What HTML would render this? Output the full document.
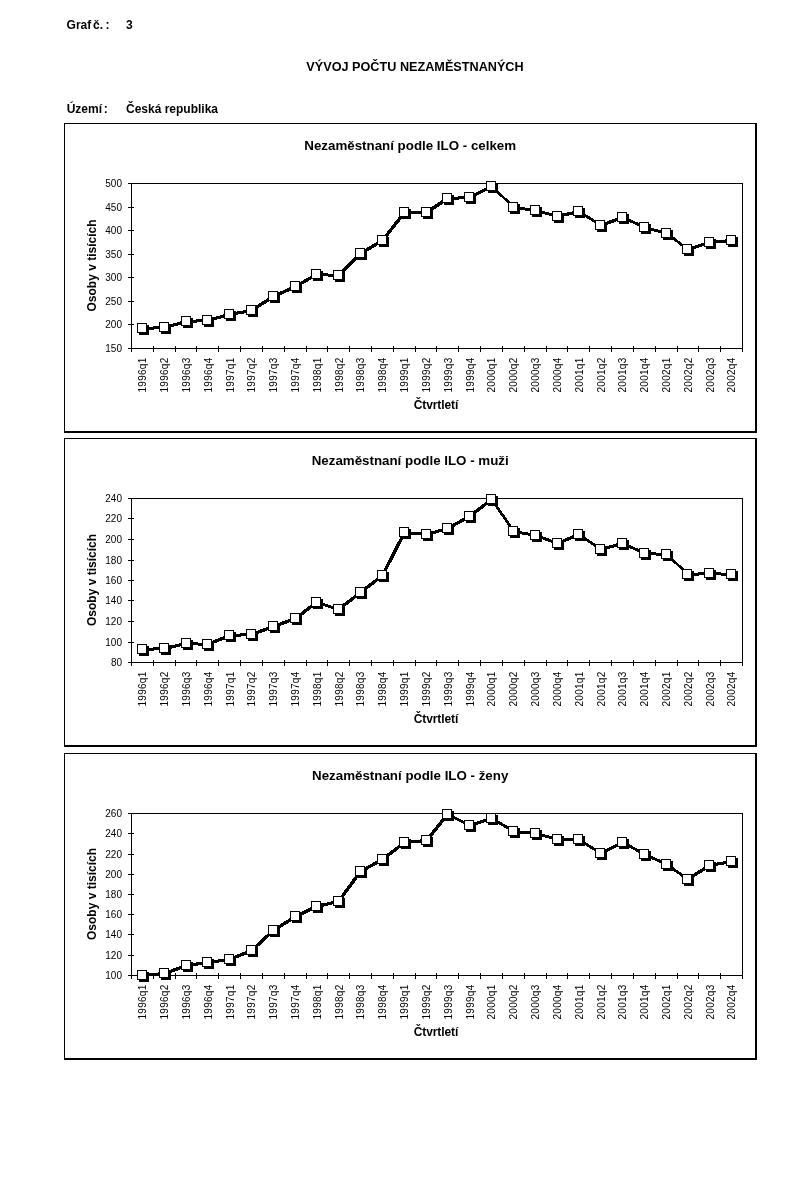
<!DOCTYPE html>
<html><head><meta charset="utf-8"><title>Graf 3</title>
<style>
html,body{margin:0;padding:0;background:#fff;}
body{width:807px;height:1181px;position:relative;overflow:hidden;font-family:"Liberation Sans",sans-serif;color:#000;}
svg{position:absolute;left:0;top:0;will-change:transform;}
text{font-family:"Liberation Sans",sans-serif;fill:#000;font-kerning:none;}
.b{font-weight:bold;font-size:12px;}
.t{font-size:10px;}
</style></head><body>
<svg width="807" height="1181" viewBox="0 0 807 1181">
<rect x="0" y="0" width="807" height="1181" fill="#fff"/>
<text class="b" x="66.6" y="29">Graf</text>
<text class="b" x="93" y="29">č.</text>
<text class="b" x="105.6" y="29">:</text>
<text class="b" x="126" y="29">3</text>
<text class="b" transform="translate(415,71) scale(1,1.08)" style="font-size:12.67px" text-anchor="middle">VÝVOJ POČTU NEZAMĚSTNANÝCH</text>
<text class="b" x="66.7" y="113">Území</text>
<text class="b" x="103.8" y="113">:</text>
<text class="b" x="126" y="113">Česká republika</text>
<g shape-rendering="crispEdges" fill="#000">
<rect x="64" y="123" width="693" height="1"/>
<rect x="64" y="123" width="1" height="310"/>
<rect x="755" y="123" width="2" height="310"/>
<rect x="64" y="431" width="693" height="2"/>
<rect x="131" y="183" width="612" height="1"/>
<rect x="131" y="348" width="612" height="1"/>
<rect x="131" y="183" width="1" height="166"/>
<rect x="742" y="183" width="1" height="166"/>
<rect x="128" y="183" width="6" height="1"/>
<rect x="128" y="207" width="6" height="1"/>
<rect x="128" y="230" width="6" height="1"/>
<rect x="128" y="254" width="6" height="1"/>
<rect x="128" y="277" width="6" height="1"/>
<rect x="128" y="301" width="6" height="1"/>
<rect x="128" y="324" width="6" height="1"/>
<rect x="128" y="348" width="6" height="1"/>
<rect x="131" y="346" width="1" height="6"/>
<rect x="153" y="346" width="1" height="6"/>
<rect x="175" y="346" width="1" height="6"/>
<rect x="196" y="346" width="1" height="6"/>
<rect x="218" y="346" width="1" height="6"/>
<rect x="240" y="346" width="1" height="6"/>
<rect x="262" y="346" width="1" height="6"/>
<rect x="284" y="346" width="1" height="6"/>
<rect x="306" y="346" width="1" height="6"/>
<rect x="327" y="346" width="1" height="6"/>
<rect x="349" y="346" width="1" height="6"/>
<rect x="371" y="346" width="1" height="6"/>
<rect x="393" y="346" width="1" height="6"/>
<rect x="415" y="346" width="1" height="6"/>
<rect x="436" y="346" width="1" height="6"/>
<rect x="458" y="346" width="1" height="6"/>
<rect x="480" y="346" width="1" height="6"/>
<rect x="502" y="346" width="1" height="6"/>
<rect x="524" y="346" width="1" height="6"/>
<rect x="546" y="346" width="1" height="6"/>
<rect x="567" y="346" width="1" height="6"/>
<rect x="589" y="346" width="1" height="6"/>
<rect x="611" y="346" width="1" height="6"/>
<rect x="633" y="346" width="1" height="6"/>
<rect x="655" y="346" width="1" height="6"/>
<rect x="677" y="346" width="1" height="6"/>
<rect x="698" y="346" width="1" height="6"/>
<rect x="720" y="346" width="1" height="6"/>
<rect x="742" y="346" width="1" height="6"/>
</g>
<text class="t" x="122" y="187" text-anchor="end">500</text>
<text class="t" x="122" y="211" text-anchor="end">450</text>
<text class="t" x="122" y="234" text-anchor="end">400</text>
<text class="t" x="122" y="258" text-anchor="end">350</text>
<text class="t" x="122" y="281" text-anchor="end">300</text>
<text class="t" x="122" y="305" text-anchor="end">250</text>
<text class="t" x="122" y="328" text-anchor="end">200</text>
<text class="t" x="122" y="352" text-anchor="end">150</text>
<text class="t" transform="translate(146.2,392.5) rotate(-90)" textLength="34.8" lengthAdjust="spacing">1996q1</text>
<text class="t" transform="translate(168.0,392.5) rotate(-90)" textLength="34.8" lengthAdjust="spacing">1996q2</text>
<text class="t" transform="translate(189.9,392.5) rotate(-90)" textLength="34.8" lengthAdjust="spacing">1996q3</text>
<text class="t" transform="translate(211.7,392.5) rotate(-90)" textLength="34.8" lengthAdjust="spacing">1996q4</text>
<text class="t" transform="translate(233.5,392.5) rotate(-90)" textLength="34.8" lengthAdjust="spacing">1997q1</text>
<text class="t" transform="translate(255.3,392.5) rotate(-90)" textLength="34.8" lengthAdjust="spacing">1997q2</text>
<text class="t" transform="translate(277.1,392.5) rotate(-90)" textLength="34.8" lengthAdjust="spacing">1997q3</text>
<text class="t" transform="translate(299.0,392.5) rotate(-90)" textLength="34.8" lengthAdjust="spacing">1997q4</text>
<text class="t" transform="translate(320.8,392.5) rotate(-90)" textLength="34.8" lengthAdjust="spacing">1998q1</text>
<text class="t" transform="translate(342.6,392.5) rotate(-90)" textLength="34.8" lengthAdjust="spacing">1998q2</text>
<text class="t" transform="translate(364.4,392.5) rotate(-90)" textLength="34.8" lengthAdjust="spacing">1998q3</text>
<text class="t" transform="translate(386.2,392.5) rotate(-90)" textLength="34.8" lengthAdjust="spacing">1998q4</text>
<text class="t" transform="translate(408.1,392.5) rotate(-90)" textLength="34.8" lengthAdjust="spacing">1999q1</text>
<text class="t" transform="translate(429.9,392.5) rotate(-90)" textLength="34.8" lengthAdjust="spacing">1999q2</text>
<text class="t" transform="translate(451.7,392.5) rotate(-90)" textLength="34.8" lengthAdjust="spacing">1999q3</text>
<text class="t" transform="translate(473.5,392.5) rotate(-90)" textLength="34.8" lengthAdjust="spacing">1999q4</text>
<text class="t" transform="translate(495.4,392.5) rotate(-90)" textLength="34.8" lengthAdjust="spacing">2000q1</text>
<text class="t" transform="translate(517.2,392.5) rotate(-90)" textLength="34.8" lengthAdjust="spacing">2000q2</text>
<text class="t" transform="translate(539.0,392.5) rotate(-90)" textLength="34.8" lengthAdjust="spacing">2000q3</text>
<text class="t" transform="translate(560.8,392.5) rotate(-90)" textLength="34.8" lengthAdjust="spacing">2000q4</text>
<text class="t" transform="translate(582.6,392.5) rotate(-90)" textLength="34.8" lengthAdjust="spacing">2001q1</text>
<text class="t" transform="translate(604.5,392.5) rotate(-90)" textLength="34.8" lengthAdjust="spacing">2001q2</text>
<text class="t" transform="translate(626.3,392.5) rotate(-90)" textLength="34.8" lengthAdjust="spacing">2001q3</text>
<text class="t" transform="translate(648.1,392.5) rotate(-90)" textLength="34.8" lengthAdjust="spacing">2001q4</text>
<text class="t" transform="translate(669.9,392.5) rotate(-90)" textLength="34.8" lengthAdjust="spacing">2002q1</text>
<text class="t" transform="translate(691.7,392.5) rotate(-90)" textLength="34.8" lengthAdjust="spacing">2002q2</text>
<text class="t" transform="translate(713.6,392.5) rotate(-90)" textLength="34.8" lengthAdjust="spacing">2002q3</text>
<text class="t" transform="translate(735.4,392.5) rotate(-90)" textLength="34.8" lengthAdjust="spacing">2002q4</text>
<text class="b" x="410.2" y="150" style="font-size:13.33px" text-anchor="middle">Nezaměstnaní podle ILO - celkem</text>
<text class="b" x="436" y="409" text-anchor="middle" textLength="44.5" lengthAdjust="spacing">Čtvrtletí</text>
<text class="b" transform="translate(96,265.5) rotate(-90)" text-anchor="middle" textLength="92" lengthAdjust="spacing">Osoby v tisících</text>
<g fill="none" stroke="#000" stroke-width="2" stroke-linejoin="miter" shape-rendering="crispEdges">
<polyline points="142,328 164,327 186,321 207,320 229,314 251,310 273,296 295,286 316,274 338,275 360,253 382,240 404,212 426,212 447,198 469,197 491,186 513,207 535,210 557,216 578,211 600,225 622,217 644,227 666,233 687,249 709,242 731,240"/>
<polyline points="143,328 165,327 187,321 208,320 230,314 252,310 274,296 296,286 317,274 339,275 361,253 383,240 405,212 427,212 448,198 470,197 492,186 514,207 536,210 558,216 579,211 601,225 623,217 645,227 667,233 688,249 710,242 732,240"/>
<polyline points="143,329 165,328 187,322 208,321 230,315 252,311 274,297 296,287 317,275 339,276 361,254 383,241 405,213 427,213 448,199 470,198 492,187 514,208 536,211 558,217 579,212 601,226 623,218 645,228 667,234 688,250 710,243 732,241"/>
</g>
<g shape-rendering="crispEdges">
<rect x="139" y="325" width="10" height="10" fill="#000"/>
<rect x="161" y="324" width="10" height="10" fill="#000"/>
<rect x="183" y="318" width="10" height="10" fill="#000"/>
<rect x="204" y="317" width="10" height="10" fill="#000"/>
<rect x="226" y="311" width="10" height="10" fill="#000"/>
<rect x="248" y="307" width="10" height="10" fill="#000"/>
<rect x="270" y="293" width="10" height="10" fill="#000"/>
<rect x="292" y="283" width="10" height="10" fill="#000"/>
<rect x="313" y="271" width="10" height="10" fill="#000"/>
<rect x="335" y="272" width="10" height="10" fill="#000"/>
<rect x="357" y="250" width="10" height="10" fill="#000"/>
<rect x="379" y="237" width="10" height="10" fill="#000"/>
<rect x="401" y="209" width="10" height="10" fill="#000"/>
<rect x="423" y="209" width="10" height="10" fill="#000"/>
<rect x="444" y="195" width="10" height="10" fill="#000"/>
<rect x="466" y="194" width="10" height="10" fill="#000"/>
<rect x="488" y="183" width="10" height="10" fill="#000"/>
<rect x="510" y="204" width="10" height="10" fill="#000"/>
<rect x="532" y="207" width="10" height="10" fill="#000"/>
<rect x="554" y="213" width="10" height="10" fill="#000"/>
<rect x="575" y="208" width="10" height="10" fill="#000"/>
<rect x="597" y="222" width="10" height="10" fill="#000"/>
<rect x="619" y="214" width="10" height="10" fill="#000"/>
<rect x="641" y="224" width="10" height="10" fill="#000"/>
<rect x="663" y="230" width="10" height="10" fill="#000"/>
<rect x="684" y="246" width="10" height="10" fill="#000"/>
<rect x="706" y="239" width="10" height="10" fill="#000"/>
<rect x="728" y="237" width="10" height="10" fill="#000"/>
<rect x="137" y="323" width="10" height="10" fill="#000"/><rect x="138" y="324" width="8" height="8" fill="#fff"/>
<rect x="159" y="322" width="10" height="10" fill="#000"/><rect x="160" y="323" width="8" height="8" fill="#fff"/>
<rect x="181" y="316" width="10" height="10" fill="#000"/><rect x="182" y="317" width="8" height="8" fill="#fff"/>
<rect x="202" y="315" width="10" height="10" fill="#000"/><rect x="203" y="316" width="8" height="8" fill="#fff"/>
<rect x="224" y="309" width="10" height="10" fill="#000"/><rect x="225" y="310" width="8" height="8" fill="#fff"/>
<rect x="246" y="305" width="10" height="10" fill="#000"/><rect x="247" y="306" width="8" height="8" fill="#fff"/>
<rect x="268" y="291" width="10" height="10" fill="#000"/><rect x="269" y="292" width="8" height="8" fill="#fff"/>
<rect x="290" y="281" width="10" height="10" fill="#000"/><rect x="291" y="282" width="8" height="8" fill="#fff"/>
<rect x="311" y="269" width="10" height="10" fill="#000"/><rect x="312" y="270" width="8" height="8" fill="#fff"/>
<rect x="333" y="270" width="10" height="10" fill="#000"/><rect x="334" y="271" width="8" height="8" fill="#fff"/>
<rect x="355" y="248" width="10" height="10" fill="#000"/><rect x="356" y="249" width="8" height="8" fill="#fff"/>
<rect x="377" y="235" width="10" height="10" fill="#000"/><rect x="378" y="236" width="8" height="8" fill="#fff"/>
<rect x="399" y="207" width="10" height="10" fill="#000"/><rect x="400" y="208" width="8" height="8" fill="#fff"/>
<rect x="421" y="207" width="10" height="10" fill="#000"/><rect x="422" y="208" width="8" height="8" fill="#fff"/>
<rect x="442" y="193" width="10" height="10" fill="#000"/><rect x="443" y="194" width="8" height="8" fill="#fff"/>
<rect x="464" y="192" width="10" height="10" fill="#000"/><rect x="465" y="193" width="8" height="8" fill="#fff"/>
<rect x="486" y="181" width="10" height="10" fill="#000"/><rect x="487" y="182" width="8" height="8" fill="#fff"/>
<rect x="508" y="202" width="10" height="10" fill="#000"/><rect x="509" y="203" width="8" height="8" fill="#fff"/>
<rect x="530" y="205" width="10" height="10" fill="#000"/><rect x="531" y="206" width="8" height="8" fill="#fff"/>
<rect x="552" y="211" width="10" height="10" fill="#000"/><rect x="553" y="212" width="8" height="8" fill="#fff"/>
<rect x="573" y="206" width="10" height="10" fill="#000"/><rect x="574" y="207" width="8" height="8" fill="#fff"/>
<rect x="595" y="220" width="10" height="10" fill="#000"/><rect x="596" y="221" width="8" height="8" fill="#fff"/>
<rect x="617" y="212" width="10" height="10" fill="#000"/><rect x="618" y="213" width="8" height="8" fill="#fff"/>
<rect x="639" y="222" width="10" height="10" fill="#000"/><rect x="640" y="223" width="8" height="8" fill="#fff"/>
<rect x="661" y="228" width="10" height="10" fill="#000"/><rect x="662" y="229" width="8" height="8" fill="#fff"/>
<rect x="682" y="244" width="10" height="10" fill="#000"/><rect x="683" y="245" width="8" height="8" fill="#fff"/>
<rect x="704" y="237" width="10" height="10" fill="#000"/><rect x="705" y="238" width="8" height="8" fill="#fff"/>
<rect x="726" y="235" width="10" height="10" fill="#000"/><rect x="727" y="236" width="8" height="8" fill="#fff"/>
</g>
<g shape-rendering="crispEdges" fill="#000">
<rect x="64" y="438" width="693" height="1"/>
<rect x="64" y="438" width="1" height="309"/>
<rect x="755" y="438" width="2" height="309"/>
<rect x="64" y="745" width="693" height="2"/>
<rect x="131" y="498" width="612" height="1"/>
<rect x="131" y="662" width="612" height="1"/>
<rect x="131" y="498" width="1" height="165"/>
<rect x="742" y="498" width="1" height="165"/>
<rect x="128" y="498" width="6" height="1"/>
<rect x="128" y="518" width="6" height="1"/>
<rect x="128" y="539" width="6" height="1"/>
<rect x="128" y="560" width="6" height="1"/>
<rect x="128" y="580" width="6" height="1"/>
<rect x="128" y="600" width="6" height="1"/>
<rect x="128" y="621" width="6" height="1"/>
<rect x="128" y="642" width="6" height="1"/>
<rect x="128" y="662" width="6" height="1"/>
<rect x="131" y="660" width="1" height="6"/>
<rect x="153" y="660" width="1" height="6"/>
<rect x="175" y="660" width="1" height="6"/>
<rect x="196" y="660" width="1" height="6"/>
<rect x="218" y="660" width="1" height="6"/>
<rect x="240" y="660" width="1" height="6"/>
<rect x="262" y="660" width="1" height="6"/>
<rect x="284" y="660" width="1" height="6"/>
<rect x="306" y="660" width="1" height="6"/>
<rect x="327" y="660" width="1" height="6"/>
<rect x="349" y="660" width="1" height="6"/>
<rect x="371" y="660" width="1" height="6"/>
<rect x="393" y="660" width="1" height="6"/>
<rect x="415" y="660" width="1" height="6"/>
<rect x="436" y="660" width="1" height="6"/>
<rect x="458" y="660" width="1" height="6"/>
<rect x="480" y="660" width="1" height="6"/>
<rect x="502" y="660" width="1" height="6"/>
<rect x="524" y="660" width="1" height="6"/>
<rect x="546" y="660" width="1" height="6"/>
<rect x="567" y="660" width="1" height="6"/>
<rect x="589" y="660" width="1" height="6"/>
<rect x="611" y="660" width="1" height="6"/>
<rect x="633" y="660" width="1" height="6"/>
<rect x="655" y="660" width="1" height="6"/>
<rect x="677" y="660" width="1" height="6"/>
<rect x="698" y="660" width="1" height="6"/>
<rect x="720" y="660" width="1" height="6"/>
<rect x="742" y="660" width="1" height="6"/>
</g>
<text class="t" x="122" y="502" text-anchor="end">240</text>
<text class="t" x="122" y="522" text-anchor="end">220</text>
<text class="t" x="122" y="543" text-anchor="end">200</text>
<text class="t" x="122" y="564" text-anchor="end">180</text>
<text class="t" x="122" y="584" text-anchor="end">160</text>
<text class="t" x="122" y="604" text-anchor="end">140</text>
<text class="t" x="122" y="625" text-anchor="end">120</text>
<text class="t" x="122" y="646" text-anchor="end">100</text>
<text class="t" x="122" y="666" text-anchor="end">80</text>
<text class="t" transform="translate(146.2,706.5) rotate(-90)" textLength="34.8" lengthAdjust="spacing">1996q1</text>
<text class="t" transform="translate(168.0,706.5) rotate(-90)" textLength="34.8" lengthAdjust="spacing">1996q2</text>
<text class="t" transform="translate(189.9,706.5) rotate(-90)" textLength="34.8" lengthAdjust="spacing">1996q3</text>
<text class="t" transform="translate(211.7,706.5) rotate(-90)" textLength="34.8" lengthAdjust="spacing">1996q4</text>
<text class="t" transform="translate(233.5,706.5) rotate(-90)" textLength="34.8" lengthAdjust="spacing">1997q1</text>
<text class="t" transform="translate(255.3,706.5) rotate(-90)" textLength="34.8" lengthAdjust="spacing">1997q2</text>
<text class="t" transform="translate(277.1,706.5) rotate(-90)" textLength="34.8" lengthAdjust="spacing">1997q3</text>
<text class="t" transform="translate(299.0,706.5) rotate(-90)" textLength="34.8" lengthAdjust="spacing">1997q4</text>
<text class="t" transform="translate(320.8,706.5) rotate(-90)" textLength="34.8" lengthAdjust="spacing">1998q1</text>
<text class="t" transform="translate(342.6,706.5) rotate(-90)" textLength="34.8" lengthAdjust="spacing">1998q2</text>
<text class="t" transform="translate(364.4,706.5) rotate(-90)" textLength="34.8" lengthAdjust="spacing">1998q3</text>
<text class="t" transform="translate(386.2,706.5) rotate(-90)" textLength="34.8" lengthAdjust="spacing">1998q4</text>
<text class="t" transform="translate(408.1,706.5) rotate(-90)" textLength="34.8" lengthAdjust="spacing">1999q1</text>
<text class="t" transform="translate(429.9,706.5) rotate(-90)" textLength="34.8" lengthAdjust="spacing">1999q2</text>
<text class="t" transform="translate(451.7,706.5) rotate(-90)" textLength="34.8" lengthAdjust="spacing">1999q3</text>
<text class="t" transform="translate(473.5,706.5) rotate(-90)" textLength="34.8" lengthAdjust="spacing">1999q4</text>
<text class="t" transform="translate(495.4,706.5) rotate(-90)" textLength="34.8" lengthAdjust="spacing">2000q1</text>
<text class="t" transform="translate(517.2,706.5) rotate(-90)" textLength="34.8" lengthAdjust="spacing">2000q2</text>
<text class="t" transform="translate(539.0,706.5) rotate(-90)" textLength="34.8" lengthAdjust="spacing">2000q3</text>
<text class="t" transform="translate(560.8,706.5) rotate(-90)" textLength="34.8" lengthAdjust="spacing">2000q4</text>
<text class="t" transform="translate(582.6,706.5) rotate(-90)" textLength="34.8" lengthAdjust="spacing">2001q1</text>
<text class="t" transform="translate(604.5,706.5) rotate(-90)" textLength="34.8" lengthAdjust="spacing">2001q2</text>
<text class="t" transform="translate(626.3,706.5) rotate(-90)" textLength="34.8" lengthAdjust="spacing">2001q3</text>
<text class="t" transform="translate(648.1,706.5) rotate(-90)" textLength="34.8" lengthAdjust="spacing">2001q4</text>
<text class="t" transform="translate(669.9,706.5) rotate(-90)" textLength="34.8" lengthAdjust="spacing">2002q1</text>
<text class="t" transform="translate(691.7,706.5) rotate(-90)" textLength="34.8" lengthAdjust="spacing">2002q2</text>
<text class="t" transform="translate(713.6,706.5) rotate(-90)" textLength="34.8" lengthAdjust="spacing">2002q3</text>
<text class="t" transform="translate(735.4,706.5) rotate(-90)" textLength="34.8" lengthAdjust="spacing">2002q4</text>
<text class="b" x="410.2" y="465" style="font-size:13.33px" text-anchor="middle">Nezaměstnaní podle ILO - muži</text>
<text class="b" x="436" y="723" text-anchor="middle" textLength="44.5" lengthAdjust="spacing">Čtvrtletí</text>
<text class="b" transform="translate(96,580.0) rotate(-90)" text-anchor="middle" textLength="92" lengthAdjust="spacing">Osoby v tisících</text>
<g fill="none" stroke="#000" stroke-width="2" stroke-linejoin="miter" shape-rendering="crispEdges">
<polyline points="142,649 164,648 186,643 207,644 229,635 251,634 273,626 295,618 316,602 338,609 360,592 382,575 404,532 426,534 447,528 469,516 491,499 513,531 535,535 557,543 578,534 600,549 622,543 644,553 666,554 687,574 709,573 731,574"/>
<polyline points="143,649 165,648 187,643 208,644 230,635 252,634 274,626 296,618 317,602 339,609 361,592 383,575 405,532 427,534 448,528 470,516 492,499 514,531 536,535 558,543 579,534 601,549 623,543 645,553 667,554 688,574 710,573 732,574"/>
<polyline points="143,650 165,649 187,644 208,645 230,636 252,635 274,627 296,619 317,603 339,610 361,593 383,576 405,533 427,535 448,529 470,517 492,500 514,532 536,536 558,544 579,535 601,550 623,544 645,554 667,555 688,575 710,574 732,575"/>
</g>
<g shape-rendering="crispEdges">
<rect x="139" y="646" width="10" height="10" fill="#000"/>
<rect x="161" y="645" width="10" height="10" fill="#000"/>
<rect x="183" y="640" width="10" height="10" fill="#000"/>
<rect x="204" y="641" width="10" height="10" fill="#000"/>
<rect x="226" y="632" width="10" height="10" fill="#000"/>
<rect x="248" y="631" width="10" height="10" fill="#000"/>
<rect x="270" y="623" width="10" height="10" fill="#000"/>
<rect x="292" y="615" width="10" height="10" fill="#000"/>
<rect x="313" y="599" width="10" height="10" fill="#000"/>
<rect x="335" y="606" width="10" height="10" fill="#000"/>
<rect x="357" y="589" width="10" height="10" fill="#000"/>
<rect x="379" y="572" width="10" height="10" fill="#000"/>
<rect x="401" y="529" width="10" height="10" fill="#000"/>
<rect x="423" y="531" width="10" height="10" fill="#000"/>
<rect x="444" y="525" width="10" height="10" fill="#000"/>
<rect x="466" y="513" width="10" height="10" fill="#000"/>
<rect x="488" y="496" width="10" height="10" fill="#000"/>
<rect x="510" y="528" width="10" height="10" fill="#000"/>
<rect x="532" y="532" width="10" height="10" fill="#000"/>
<rect x="554" y="540" width="10" height="10" fill="#000"/>
<rect x="575" y="531" width="10" height="10" fill="#000"/>
<rect x="597" y="546" width="10" height="10" fill="#000"/>
<rect x="619" y="540" width="10" height="10" fill="#000"/>
<rect x="641" y="550" width="10" height="10" fill="#000"/>
<rect x="663" y="551" width="10" height="10" fill="#000"/>
<rect x="684" y="571" width="10" height="10" fill="#000"/>
<rect x="706" y="570" width="10" height="10" fill="#000"/>
<rect x="728" y="571" width="10" height="10" fill="#000"/>
<rect x="137" y="644" width="10" height="10" fill="#000"/><rect x="138" y="645" width="8" height="8" fill="#fff"/>
<rect x="159" y="643" width="10" height="10" fill="#000"/><rect x="160" y="644" width="8" height="8" fill="#fff"/>
<rect x="181" y="638" width="10" height="10" fill="#000"/><rect x="182" y="639" width="8" height="8" fill="#fff"/>
<rect x="202" y="639" width="10" height="10" fill="#000"/><rect x="203" y="640" width="8" height="8" fill="#fff"/>
<rect x="224" y="630" width="10" height="10" fill="#000"/><rect x="225" y="631" width="8" height="8" fill="#fff"/>
<rect x="246" y="629" width="10" height="10" fill="#000"/><rect x="247" y="630" width="8" height="8" fill="#fff"/>
<rect x="268" y="621" width="10" height="10" fill="#000"/><rect x="269" y="622" width="8" height="8" fill="#fff"/>
<rect x="290" y="613" width="10" height="10" fill="#000"/><rect x="291" y="614" width="8" height="8" fill="#fff"/>
<rect x="311" y="597" width="10" height="10" fill="#000"/><rect x="312" y="598" width="8" height="8" fill="#fff"/>
<rect x="333" y="604" width="10" height="10" fill="#000"/><rect x="334" y="605" width="8" height="8" fill="#fff"/>
<rect x="355" y="587" width="10" height="10" fill="#000"/><rect x="356" y="588" width="8" height="8" fill="#fff"/>
<rect x="377" y="570" width="10" height="10" fill="#000"/><rect x="378" y="571" width="8" height="8" fill="#fff"/>
<rect x="399" y="527" width="10" height="10" fill="#000"/><rect x="400" y="528" width="8" height="8" fill="#fff"/>
<rect x="421" y="529" width="10" height="10" fill="#000"/><rect x="422" y="530" width="8" height="8" fill="#fff"/>
<rect x="442" y="523" width="10" height="10" fill="#000"/><rect x="443" y="524" width="8" height="8" fill="#fff"/>
<rect x="464" y="511" width="10" height="10" fill="#000"/><rect x="465" y="512" width="8" height="8" fill="#fff"/>
<rect x="486" y="494" width="10" height="10" fill="#000"/><rect x="487" y="495" width="8" height="8" fill="#fff"/>
<rect x="508" y="526" width="10" height="10" fill="#000"/><rect x="509" y="527" width="8" height="8" fill="#fff"/>
<rect x="530" y="530" width="10" height="10" fill="#000"/><rect x="531" y="531" width="8" height="8" fill="#fff"/>
<rect x="552" y="538" width="10" height="10" fill="#000"/><rect x="553" y="539" width="8" height="8" fill="#fff"/>
<rect x="573" y="529" width="10" height="10" fill="#000"/><rect x="574" y="530" width="8" height="8" fill="#fff"/>
<rect x="595" y="544" width="10" height="10" fill="#000"/><rect x="596" y="545" width="8" height="8" fill="#fff"/>
<rect x="617" y="538" width="10" height="10" fill="#000"/><rect x="618" y="539" width="8" height="8" fill="#fff"/>
<rect x="639" y="548" width="10" height="10" fill="#000"/><rect x="640" y="549" width="8" height="8" fill="#fff"/>
<rect x="661" y="549" width="10" height="10" fill="#000"/><rect x="662" y="550" width="8" height="8" fill="#fff"/>
<rect x="682" y="569" width="10" height="10" fill="#000"/><rect x="683" y="570" width="8" height="8" fill="#fff"/>
<rect x="704" y="568" width="10" height="10" fill="#000"/><rect x="705" y="569" width="8" height="8" fill="#fff"/>
<rect x="726" y="569" width="10" height="10" fill="#000"/><rect x="727" y="570" width="8" height="8" fill="#fff"/>
</g>
<g shape-rendering="crispEdges" fill="#000">
<rect x="64" y="753" width="693" height="1"/>
<rect x="64" y="753" width="1" height="307"/>
<rect x="755" y="753" width="2" height="307"/>
<rect x="64" y="1058" width="693" height="2"/>
<rect x="131" y="813" width="612" height="1"/>
<rect x="131" y="975" width="612" height="1"/>
<rect x="131" y="813" width="1" height="163"/>
<rect x="742" y="813" width="1" height="163"/>
<rect x="128" y="813" width="6" height="1"/>
<rect x="128" y="833" width="6" height="1"/>
<rect x="128" y="854" width="6" height="1"/>
<rect x="128" y="874" width="6" height="1"/>
<rect x="128" y="894" width="6" height="1"/>
<rect x="128" y="914" width="6" height="1"/>
<rect x="128" y="934" width="6" height="1"/>
<rect x="128" y="955" width="6" height="1"/>
<rect x="128" y="975" width="6" height="1"/>
<rect x="131" y="973" width="1" height="6"/>
<rect x="153" y="973" width="1" height="6"/>
<rect x="175" y="973" width="1" height="6"/>
<rect x="196" y="973" width="1" height="6"/>
<rect x="218" y="973" width="1" height="6"/>
<rect x="240" y="973" width="1" height="6"/>
<rect x="262" y="973" width="1" height="6"/>
<rect x="284" y="973" width="1" height="6"/>
<rect x="306" y="973" width="1" height="6"/>
<rect x="327" y="973" width="1" height="6"/>
<rect x="349" y="973" width="1" height="6"/>
<rect x="371" y="973" width="1" height="6"/>
<rect x="393" y="973" width="1" height="6"/>
<rect x="415" y="973" width="1" height="6"/>
<rect x="436" y="973" width="1" height="6"/>
<rect x="458" y="973" width="1" height="6"/>
<rect x="480" y="973" width="1" height="6"/>
<rect x="502" y="973" width="1" height="6"/>
<rect x="524" y="973" width="1" height="6"/>
<rect x="546" y="973" width="1" height="6"/>
<rect x="567" y="973" width="1" height="6"/>
<rect x="589" y="973" width="1" height="6"/>
<rect x="611" y="973" width="1" height="6"/>
<rect x="633" y="973" width="1" height="6"/>
<rect x="655" y="973" width="1" height="6"/>
<rect x="677" y="973" width="1" height="6"/>
<rect x="698" y="973" width="1" height="6"/>
<rect x="720" y="973" width="1" height="6"/>
<rect x="742" y="973" width="1" height="6"/>
</g>
<text class="t" x="122" y="817" text-anchor="end">260</text>
<text class="t" x="122" y="837" text-anchor="end">240</text>
<text class="t" x="122" y="858" text-anchor="end">220</text>
<text class="t" x="122" y="878" text-anchor="end">200</text>
<text class="t" x="122" y="898" text-anchor="end">180</text>
<text class="t" x="122" y="918" text-anchor="end">160</text>
<text class="t" x="122" y="938" text-anchor="end">140</text>
<text class="t" x="122" y="959" text-anchor="end">120</text>
<text class="t" x="122" y="979" text-anchor="end">100</text>
<text class="t" transform="translate(146.2,1019.5) rotate(-90)" textLength="34.8" lengthAdjust="spacing">1996q1</text>
<text class="t" transform="translate(168.0,1019.5) rotate(-90)" textLength="34.8" lengthAdjust="spacing">1996q2</text>
<text class="t" transform="translate(189.9,1019.5) rotate(-90)" textLength="34.8" lengthAdjust="spacing">1996q3</text>
<text class="t" transform="translate(211.7,1019.5) rotate(-90)" textLength="34.8" lengthAdjust="spacing">1996q4</text>
<text class="t" transform="translate(233.5,1019.5) rotate(-90)" textLength="34.8" lengthAdjust="spacing">1997q1</text>
<text class="t" transform="translate(255.3,1019.5) rotate(-90)" textLength="34.8" lengthAdjust="spacing">1997q2</text>
<text class="t" transform="translate(277.1,1019.5) rotate(-90)" textLength="34.8" lengthAdjust="spacing">1997q3</text>
<text class="t" transform="translate(299.0,1019.5) rotate(-90)" textLength="34.8" lengthAdjust="spacing">1997q4</text>
<text class="t" transform="translate(320.8,1019.5) rotate(-90)" textLength="34.8" lengthAdjust="spacing">1998q1</text>
<text class="t" transform="translate(342.6,1019.5) rotate(-90)" textLength="34.8" lengthAdjust="spacing">1998q2</text>
<text class="t" transform="translate(364.4,1019.5) rotate(-90)" textLength="34.8" lengthAdjust="spacing">1998q3</text>
<text class="t" transform="translate(386.2,1019.5) rotate(-90)" textLength="34.8" lengthAdjust="spacing">1998q4</text>
<text class="t" transform="translate(408.1,1019.5) rotate(-90)" textLength="34.8" lengthAdjust="spacing">1999q1</text>
<text class="t" transform="translate(429.9,1019.5) rotate(-90)" textLength="34.8" lengthAdjust="spacing">1999q2</text>
<text class="t" transform="translate(451.7,1019.5) rotate(-90)" textLength="34.8" lengthAdjust="spacing">1999q3</text>
<text class="t" transform="translate(473.5,1019.5) rotate(-90)" textLength="34.8" lengthAdjust="spacing">1999q4</text>
<text class="t" transform="translate(495.4,1019.5) rotate(-90)" textLength="34.8" lengthAdjust="spacing">2000q1</text>
<text class="t" transform="translate(517.2,1019.5) rotate(-90)" textLength="34.8" lengthAdjust="spacing">2000q2</text>
<text class="t" transform="translate(539.0,1019.5) rotate(-90)" textLength="34.8" lengthAdjust="spacing">2000q3</text>
<text class="t" transform="translate(560.8,1019.5) rotate(-90)" textLength="34.8" lengthAdjust="spacing">2000q4</text>
<text class="t" transform="translate(582.6,1019.5) rotate(-90)" textLength="34.8" lengthAdjust="spacing">2001q1</text>
<text class="t" transform="translate(604.5,1019.5) rotate(-90)" textLength="34.8" lengthAdjust="spacing">2001q2</text>
<text class="t" transform="translate(626.3,1019.5) rotate(-90)" textLength="34.8" lengthAdjust="spacing">2001q3</text>
<text class="t" transform="translate(648.1,1019.5) rotate(-90)" textLength="34.8" lengthAdjust="spacing">2001q4</text>
<text class="t" transform="translate(669.9,1019.5) rotate(-90)" textLength="34.8" lengthAdjust="spacing">2002q1</text>
<text class="t" transform="translate(691.7,1019.5) rotate(-90)" textLength="34.8" lengthAdjust="spacing">2002q2</text>
<text class="t" transform="translate(713.6,1019.5) rotate(-90)" textLength="34.8" lengthAdjust="spacing">2002q3</text>
<text class="t" transform="translate(735.4,1019.5) rotate(-90)" textLength="34.8" lengthAdjust="spacing">2002q4</text>
<text class="b" x="410.2" y="780" style="font-size:13.33px" text-anchor="middle">Nezaměstnaní podle ILO - ženy</text>
<text class="b" x="436" y="1036" text-anchor="middle" textLength="44.5" lengthAdjust="spacing">Čtvrtletí</text>
<text class="b" transform="translate(96,894.0) rotate(-90)" text-anchor="middle" textLength="92" lengthAdjust="spacing">Osoby v tisících</text>
<g fill="none" stroke="#000" stroke-width="2" stroke-linejoin="miter" shape-rendering="crispEdges">
<polyline points="142,975 164,973 186,965 207,962 229,959 251,950 273,930 295,916 316,906 338,901 360,871 382,859 404,842 426,840 447,814 469,825 491,818 513,831 535,833 557,839 578,839 600,853 622,842 644,854 666,864 687,879 709,865 731,861"/>
<polyline points="143,975 165,973 187,965 208,962 230,959 252,950 274,930 296,916 317,906 339,901 361,871 383,859 405,842 427,840 448,814 470,825 492,818 514,831 536,833 558,839 579,839 601,853 623,842 645,854 667,864 688,879 710,865 732,861"/>
<polyline points="143,976 165,974 187,966 208,963 230,960 252,951 274,931 296,917 317,907 339,902 361,872 383,860 405,843 427,841 448,815 470,826 492,819 514,832 536,834 558,840 579,840 601,854 623,843 645,855 667,865 688,880 710,866 732,862"/>
</g>
<g shape-rendering="crispEdges">
<rect x="139" y="972" width="10" height="10" fill="#000"/>
<rect x="161" y="970" width="10" height="10" fill="#000"/>
<rect x="183" y="962" width="10" height="10" fill="#000"/>
<rect x="204" y="959" width="10" height="10" fill="#000"/>
<rect x="226" y="956" width="10" height="10" fill="#000"/>
<rect x="248" y="947" width="10" height="10" fill="#000"/>
<rect x="270" y="927" width="10" height="10" fill="#000"/>
<rect x="292" y="913" width="10" height="10" fill="#000"/>
<rect x="313" y="903" width="10" height="10" fill="#000"/>
<rect x="335" y="898" width="10" height="10" fill="#000"/>
<rect x="357" y="868" width="10" height="10" fill="#000"/>
<rect x="379" y="856" width="10" height="10" fill="#000"/>
<rect x="401" y="839" width="10" height="10" fill="#000"/>
<rect x="423" y="837" width="10" height="10" fill="#000"/>
<rect x="444" y="811" width="10" height="10" fill="#000"/>
<rect x="466" y="822" width="10" height="10" fill="#000"/>
<rect x="488" y="815" width="10" height="10" fill="#000"/>
<rect x="510" y="828" width="10" height="10" fill="#000"/>
<rect x="532" y="830" width="10" height="10" fill="#000"/>
<rect x="554" y="836" width="10" height="10" fill="#000"/>
<rect x="575" y="836" width="10" height="10" fill="#000"/>
<rect x="597" y="850" width="10" height="10" fill="#000"/>
<rect x="619" y="839" width="10" height="10" fill="#000"/>
<rect x="641" y="851" width="10" height="10" fill="#000"/>
<rect x="663" y="861" width="10" height="10" fill="#000"/>
<rect x="684" y="876" width="10" height="10" fill="#000"/>
<rect x="706" y="862" width="10" height="10" fill="#000"/>
<rect x="728" y="858" width="10" height="10" fill="#000"/>
<rect x="137" y="970" width="10" height="10" fill="#000"/><rect x="138" y="971" width="8" height="8" fill="#fff"/>
<rect x="159" y="968" width="10" height="10" fill="#000"/><rect x="160" y="969" width="8" height="8" fill="#fff"/>
<rect x="181" y="960" width="10" height="10" fill="#000"/><rect x="182" y="961" width="8" height="8" fill="#fff"/>
<rect x="202" y="957" width="10" height="10" fill="#000"/><rect x="203" y="958" width="8" height="8" fill="#fff"/>
<rect x="224" y="954" width="10" height="10" fill="#000"/><rect x="225" y="955" width="8" height="8" fill="#fff"/>
<rect x="246" y="945" width="10" height="10" fill="#000"/><rect x="247" y="946" width="8" height="8" fill="#fff"/>
<rect x="268" y="925" width="10" height="10" fill="#000"/><rect x="269" y="926" width="8" height="8" fill="#fff"/>
<rect x="290" y="911" width="10" height="10" fill="#000"/><rect x="291" y="912" width="8" height="8" fill="#fff"/>
<rect x="311" y="901" width="10" height="10" fill="#000"/><rect x="312" y="902" width="8" height="8" fill="#fff"/>
<rect x="333" y="896" width="10" height="10" fill="#000"/><rect x="334" y="897" width="8" height="8" fill="#fff"/>
<rect x="355" y="866" width="10" height="10" fill="#000"/><rect x="356" y="867" width="8" height="8" fill="#fff"/>
<rect x="377" y="854" width="10" height="10" fill="#000"/><rect x="378" y="855" width="8" height="8" fill="#fff"/>
<rect x="399" y="837" width="10" height="10" fill="#000"/><rect x="400" y="838" width="8" height="8" fill="#fff"/>
<rect x="421" y="835" width="10" height="10" fill="#000"/><rect x="422" y="836" width="8" height="8" fill="#fff"/>
<rect x="442" y="809" width="10" height="10" fill="#000"/><rect x="443" y="810" width="8" height="8" fill="#fff"/>
<rect x="464" y="820" width="10" height="10" fill="#000"/><rect x="465" y="821" width="8" height="8" fill="#fff"/>
<rect x="486" y="813" width="10" height="10" fill="#000"/><rect x="487" y="814" width="8" height="8" fill="#fff"/>
<rect x="508" y="826" width="10" height="10" fill="#000"/><rect x="509" y="827" width="8" height="8" fill="#fff"/>
<rect x="530" y="828" width="10" height="10" fill="#000"/><rect x="531" y="829" width="8" height="8" fill="#fff"/>
<rect x="552" y="834" width="10" height="10" fill="#000"/><rect x="553" y="835" width="8" height="8" fill="#fff"/>
<rect x="573" y="834" width="10" height="10" fill="#000"/><rect x="574" y="835" width="8" height="8" fill="#fff"/>
<rect x="595" y="848" width="10" height="10" fill="#000"/><rect x="596" y="849" width="8" height="8" fill="#fff"/>
<rect x="617" y="837" width="10" height="10" fill="#000"/><rect x="618" y="838" width="8" height="8" fill="#fff"/>
<rect x="639" y="849" width="10" height="10" fill="#000"/><rect x="640" y="850" width="8" height="8" fill="#fff"/>
<rect x="661" y="859" width="10" height="10" fill="#000"/><rect x="662" y="860" width="8" height="8" fill="#fff"/>
<rect x="682" y="874" width="10" height="10" fill="#000"/><rect x="683" y="875" width="8" height="8" fill="#fff"/>
<rect x="704" y="860" width="10" height="10" fill="#000"/><rect x="705" y="861" width="8" height="8" fill="#fff"/>
<rect x="726" y="856" width="10" height="10" fill="#000"/><rect x="727" y="857" width="8" height="8" fill="#fff"/>
</g>
</svg>
</body></html>
